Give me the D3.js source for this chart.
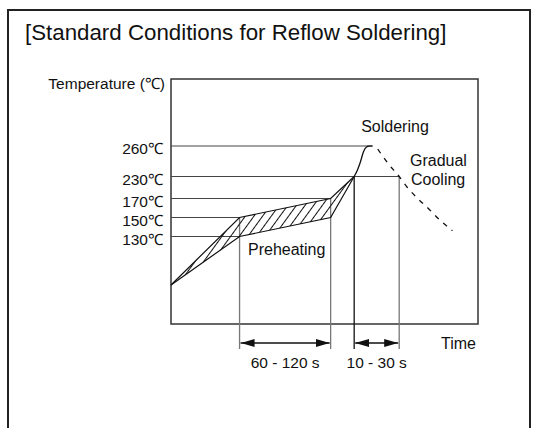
<!DOCTYPE html>
<html>
<head>
<meta charset="utf-8">
<script src="https://cdn.jsdelivr.net/npm/d3@7"></script>
<style>
  html, body { margin: 0; padding: 0; background: #fff; }
  svg text { font-family: "Liberation Sans", Arial, sans-serif; fill: #111; }
</style>
</head>
<body>
<svg id="chart" width="537" height="428"></svg>
<script>
// schematic reflow profile
const title = '[Standard Conditions for Reflow Soldering]';
const tempTicks = [260, 230, 170, 150, 130];
const guideEnd = [193, 223, 156, 67, 67];          // time where each guide line stops
const profileTime = [0, 67, 156, 179];
const upperTemp = [25, 150, 170, 230];
const lowerTemp = [25, 130, 150, 230];
const solderTime = [179, 182, 185, 188, 191, 194, 197];
const solderTemp = [230, 236, 244, 254, 259, 260, 260];
const coolTime = [202, 212, 223, 231, 240, 251, 263, 275];
const coolTemp = [257, 243, 230, 200, 173, 160, 147, 136];
const markTime = [67, 156, 179, 223];
const markFrom = [150, 170, 230, 230];
const spanFrom = [67, 179];
const spanTo = [156, 223];
const spanLabels = ['60 - 120 s', '10 - 30 s'];

const svg = d3.select('#chart');

// the y axis is not to scale, so use a piecewise scale
const y = d3.scaleLinear()
  .domain([0, 25, 130, 150, 170, 230, 260, 300])
  .range([324, 285, 236.5, 217.5, 198.5, 176.5, 146, 79]);
const x = d3.scaleLinear().domain([0, 300]).range([171, 478]);

const defs = svg.append('defs');
defs.append('pattern')
  .attr('id', 'hatch')
  .attr('patternUnits', 'userSpaceOnUse')
  .attr('width', 7)
  .attr('height', 10)
  .attr('patternTransform', 'rotate(36)')
  .append('line')
  .attr('x1', 3.5).attr('y1', 0)
  .attr('x2', 3.5).attr('y2', 10)
  .attr('stroke', '#111')
  .attr('stroke-width', 1);

defs.append('marker')
  .attr('id', 'arrow')
  .attr('markerUnits', 'userSpaceOnUse')
  .attr('viewBox', '0 0 14 8')
  .attr('refX', 14).attr('refY', 4)
  .attr('markerWidth', 14).attr('markerHeight', 8)
  .attr('orient', 'auto-start-reverse')
  .append('path')
  .attr('d', 'M0,0L14,4L0,8Z')
  .attr('fill', '#111');

// outer frame
svg.append('path')
  .attr('d', 'M8,430V10H530V430')
  .attr('fill', 'none')
  .attr('stroke', '#222')
  .attr('stroke-width', 2);

svg.append('text')
  .attr('x', 25).attr('y', 40)
  .attr('font-size', 22.3)
  .text(title);

// plot frame
svg.append('rect')
  .attr('x', x(0)).attr('y', y(300))
  .attr('width', x(300) - x(0))
  .attr('height', y(0) - y(300))
  .attr('fill', 'none')
  .attr('stroke', '#333')
  .attr('stroke-width', 1.5);

svg.append('text')
  .attr('x', 165).attr('y', 89)
  .attr('text-anchor', 'end')
  .attr('font-size', 15.5)
  .text('Temperature (\u2103)');

// guide lines and temperature labels
svg.append('g')
  .selectAll('line')
  .data(tempTicks)
  .join('line')
  .attr('x1', x(0))
  .attr('x2', (d, i) => x(guideEnd[i]))
  .attr('y1', d => y(d))
  .attr('y2', d => y(d))
  .attr('stroke', '#444')
  .attr('stroke-width', 1.2);

svg.append('g')
  .selectAll('text')
  .data(tempTicks)
  .join('text')
  .attr('x', 163)
  .attr('y', d => y(d) + 8)
  .attr('text-anchor', 'end')
  .attr('font-size', 15.5)
  .text(d => d + '\u2103');

// vertical markers down below the frame
svg.append('g')
  .selectAll('line')
  .data(markTime)
  .join('line')
  .attr('x1', d => x(d))
  .attr('x2', d => x(d))
  .attr('y1', (d, i) => y(markFrom[i]))
  .attr('y2', y(0) + 25)
  .attr('stroke', d => d === 179 ? '#111' : '#777')
  .attr('stroke-width', 1.3);

// preheating band
const band = profileTime.map((t, i) => [x(t), y(upperTemp[i])])
  .concat(profileTime.map((t, i) => [x(t), y(lowerTemp[i])]).reverse());
svg.append('path')
  .attr('d', 'M' + band.join('L') + 'Z')
  .attr('fill', 'url(#hatch)');

const line = d3.line();
[upperTemp, lowerTemp].forEach(temps => {
  svg.append('path')
    .attr('d', line(profileTime.map((t, i) => [x(t), y(temps[i])])))
    .attr('fill', 'none')
    .attr('stroke', '#111')
    .attr('stroke-width', 1.2);
});

const curve = d3.line().curve(d3.curveMonotoneX);
svg.append('path')
  .attr('d', curve(solderTime.map((t, i) => [x(t), y(solderTemp[i])])))
  .attr('fill', 'none')
  .attr('stroke', '#111')
  .attr('stroke-width', 1.3);

svg.append('path')
  .attr('d', curve(coolTime.map((t, i) => [x(t), y(coolTemp[i])])))
  .attr('fill', 'none')
  .attr('stroke', '#111')
  .attr('stroke-width', 1.3)
  .attr('stroke-dasharray', '5,6');

// span arrows
const arrowY = y(0) + 19;
svg.append('g')
  .selectAll('line')
  .data(spanFrom)
  .join('line')
  .attr('x1', d => x(d) + 1)
  .attr('x2', (d, i) => x(spanTo[i]) - 1)
  .attr('y1', arrowY).attr('y2', arrowY)
  .attr('stroke', '#111')
  .attr('stroke-width', 1.3)
  .attr('marker-start', 'url(#arrow)')
  .attr('marker-end', 'url(#arrow)');

svg.append('g')
  .selectAll('text')
  .data(spanLabels)
  .join('text')
  .attr('x', (d, i) => (x(spanFrom[i]) + x(spanTo[i])) / 2)
  .attr('y', arrowY + 25)
  .attr('text-anchor', 'middle')
  .attr('font-size', 15.5)
  .text(d => d);

// annotations
const notes = [
  { t: 'Soldering', x: 395, y: 132, anchor: 'middle' },
  { t: 'Gradual', x: 410, y: 166, anchor: 'start' },
  { t: 'Cooling', x: 411, y: 185, anchor: 'start' },
  { t: 'Preheating', x: 248, y: 255, anchor: 'start' },
  { t: 'Time', x: 476, y: 349, anchor: 'end' }
];
svg.append('g')
  .selectAll('text')
  .data(notes)
  .join('text')
  .attr('x', d => d.x).attr('y', d => d.y)
  .attr('text-anchor', d => d.anchor)
  .attr('font-size', 16)
  .text(d => d.t);
</script>
</body>
</html>
